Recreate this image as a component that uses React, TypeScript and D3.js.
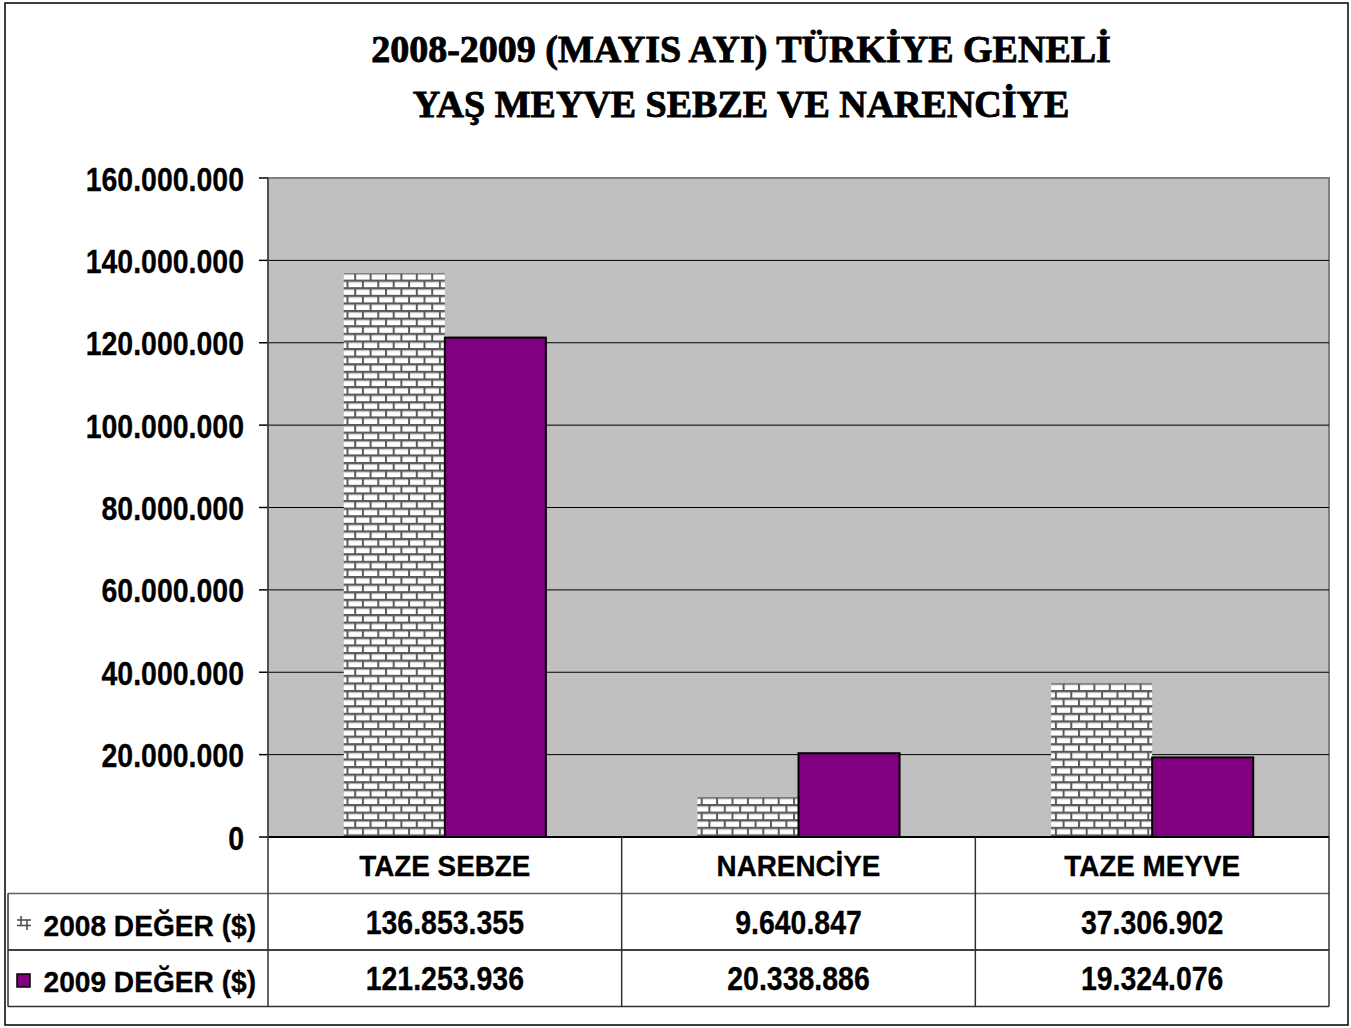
import React from "react";
import * as d3 from "d3";

const titleLines = ["2008-2009 (MAYIS AYI) TÜRKİYE GENELİ", "YAŞ MEYVE SEBZE VE NARENCİYE"];
const categories = ["TAZE SEBZE", "NARENCİYE", "TAZE MEYVE"];
const seriesNames = ["2008 DEĞER ($)", "2009 DEĞER ($)"];
const values2008 = [136853355, 9640847, 37306902];
const values2009 = [121253936, 20338886, 19324076];
const yTicks = [0, 20000000, 40000000, 60000000, 80000000, 100000000, 120000000, 140000000, 160000000];

const W = 1351;
const H = 1028;
const left = 268;
const right = 1329;
const top = 178;
const bottom = 837;
const rowH = 56.5;

const loc = d3.formatLocale({ decimal: ",", thousands: ".", grouping: [3], currency: ["", ""] });
const fmt = loc.format(",d");

const SANS = "'Liberation Sans', Arial, sans-serif";
const SERIF = "'Liberation Serif', 'Times New Roman', serif";

function T(props: { x: number; y: number; sx?: number; anchor?: string; size?: number; family?: string; sw?: number; children: React.ReactNode }) {
  const { x, y, sx = 0.95, anchor = "middle", size = 29, family = SANS, sw = 0.3, children } = props;
  return (
    <text
      transform={`translate(${x},${y}) scale(${sx},1)`}
      textAnchor={anchor}
      fontFamily={family}
      fontWeight="bold"
      fontSize={size}
      fill="#000"
      stroke="#000"
      strokeWidth={sw}
    >
      {children}
    </text>
  );
}

export default function App() {
  const series = [values2008, values2009];
  const x0 = d3.scaleBand<string>().domain(categories).range([left, right]).paddingInner(0).paddingOuter(0);
  const x1 = d3.scaleBand<string>().domain(seriesNames).range([0, x0.bandwidth()]).paddingInner(0).paddingOuter(0.75);
  const y = d3.scaleLinear().domain([0, 160000000]).range([bottom, top]);

  const row1 = bottom + rowH;
  const row2 = bottom + 2 * rowH;
  const row3 = bottom + 3 * rowH;

  return (
    <svg width={W} height={H} style={{ position: "absolute", left: 0, top: 0 }} xmlns="http://www.w3.org/2000/svg">
      <defs>
        <pattern id="brick" patternUnits="userSpaceOnUse" width={15.4} height={15.2} x={0} y={272}>
          <rect width={15.4} height={15.2} fill="#ffffff" />
          <rect x={0} y={0} width={15.4} height={2} fill="#5a5a5a" />
          <rect x={0} y={2} width={15.4} height={1} fill="#b0b0b0" />
          <rect x={0} y={7.6} width={15.4} height={2} fill="#5a5a5a" />
          <rect x={0} y={9.6} width={15.4} height={1} fill="#b0b0b0" />
          <rect x={0} y={0} width={2} height={7.6} fill="#5a5a5a" />
          <rect x={7.7} y={7.6} width={2} height={7.6} fill="#5a5a5a" />
        </pattern>
      </defs>
      <rect x={0} y={0} width={W} height={H} fill="#fff" />
      <rect x={5} y={3} width={1343} height={1022} fill="none" stroke="#000" strokeWidth={1.5} />

      {titleLines.map((t, i) => (
        <T key={i} x={741} y={62 + i * 55} sx={1.0} size={38} family={SERIF} sw={0.9}>
          {t}
        </T>
      ))}

      {/* plot area */}
      <rect x={left} y={top} width={right - left} height={bottom - top} fill="#c0c0c0" stroke="#808080" strokeWidth={2} />
      {yTicks.map((t) => (
        <g key={t}>
          {t > 0 && t < 160000000 && (
            <line x1={left} x2={right} y1={y(t)} y2={y(t)} stroke="#000" strokeWidth={1} />
          )}
          <line x1={left - 9} x2={left} y1={y(t)} y2={y(t)} stroke="#000" strokeWidth={1.5} />
          <T x={244} y={y(t) + 12.5} anchor="end" sx={0.85} size={33.5}>
            {fmt(t)}
          </T>
        </g>
      ))}

      {categories.map((c, ci) =>
        seriesNames.map((s, si) => {
          const v = series[si][ci];
          const bx = (x0(c) || 0) + (x1(s) || 0);
          const by = y(v);
          return si === 0 ? (
            <rect key={c + s} x={bx} y={by} width={x1.bandwidth()} height={bottom - by} fill="url(#brick)" />
          ) : (
            <rect key={c + s} x={bx} y={by} width={x1.bandwidth()} height={bottom - by} fill="#800080" stroke="#000" strokeWidth={2} />
          );
        })
      )}
      <line x1={left} x2={right} y1={bottom} y2={bottom} stroke="#000" strokeWidth={2} />
      <line x1={left} x2={left} y1={top} y2={bottom} stroke="#404040" strokeWidth={1.5} />

      {/* data table */}
      <g fill="none" strokeWidth={1.5}>
        <line x1={8} x2={right} y1={row1} y2={row1} stroke="#606060" />
        <line x1={8} x2={right} y1={row2} y2={row2} stroke="#000" />
        <line x1={8} x2={right} y1={row3} y2={row3} stroke="#303030" />
        <line x1={8} x2={8} y1={row1} y2={row3} stroke="#303030" />
        <line x1={left} x2={left} y1={bottom} y2={row3} stroke="#303030" />
        {categories.map((c) => (
          <line key={c} x1={(x0(c) || 0) + x0.bandwidth()} x2={(x0(c) || 0) + x0.bandwidth()} y1={bottom} y2={row3} stroke="#303030" />
        ))}
      </g>
      {categories.map((c) => (
        <T key={c} x={(x0(c) || 0) + x0.bandwidth() / 2} y={876} sx={0.96}>
          {c}
        </T>
      ))}
      {series.map((vals, si) =>
        vals.map((v, ci) => (
          <T key={si + "-" + ci} x={(x0(categories[ci]) || 0) + x0.bandwidth() / 2} y={934 + si * 56} sx={0.85} size={33.5}>
            {fmt(v)}
          </T>
        ))
      )}
      {/* legend keys */}
      <g stroke="#505050" strokeWidth={1.6} fill="none">
        <line x1={17} x2={31} y1={920} y2={920} />
        <line x1={17} x2={31} y1={925.5} y2={925.5} />
        <line x1={21} x2={21} y1={916} y2={925} />
        <line x1={27} x2={27} y1={920} y2={930} />
      </g>
      <rect x={17} y={974} width={13} height={13} fill="#800080" stroke="#000" strokeWidth={1.5} />
      {seriesNames.map((s, si) => (
        <T key={s} x={256} y={936 + si * 56} anchor="end" sx={0.97}>
          {s}
        </T>
      ))}
    </svg>
  );
}
